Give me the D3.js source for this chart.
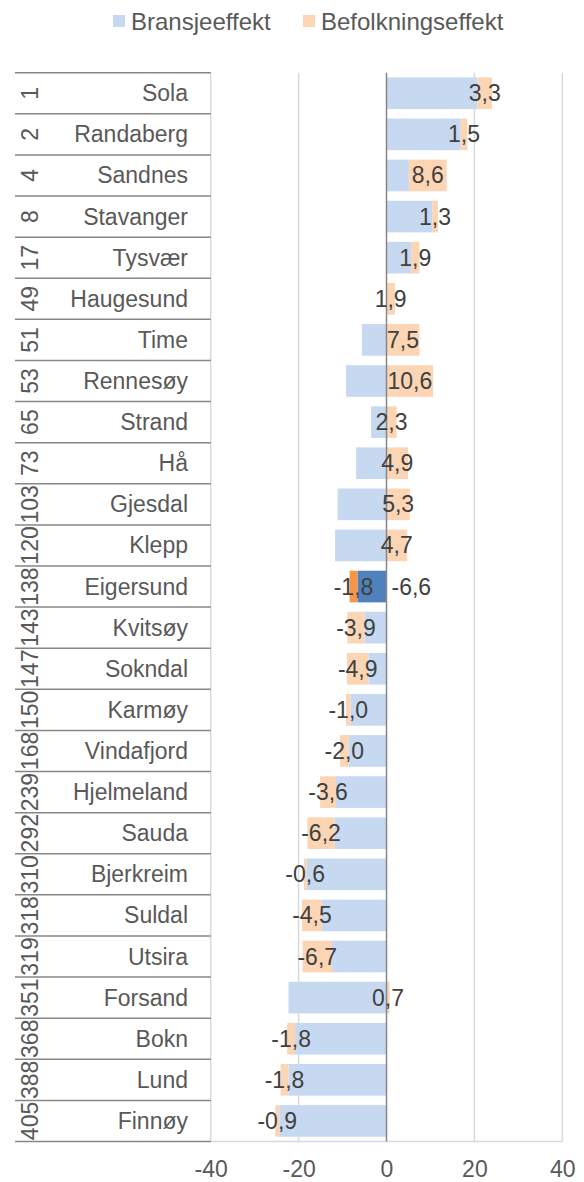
<!DOCTYPE html>
<meta charset="utf-8">
<style>
  body { margin: 0; background: #fff; }
  text { font-family: "Liberation Sans", Arial, sans-serif; font-size: 23px; }
  .grid line { stroke: #d9d9d9; stroke-width: 1.5; }
  .catline { stroke: #868686; stroke-width: 1.5; }
  .tick text { fill: #595959; }
  .lbl { fill: #404040; }
</style>
<body></body>
<script src="https://d3js.org/d3.v7.min.js"></script>
<script>
// ranks and municipalities, top to bottom
var ranks = [1, 2, 4, 8, 17, 49, 51, 53, 65, 73, 103, 120, 138, 143, 147, 150, 168, 239, 292, 310, 318, 319, 351, 368, 388, 405];
var names = ["Sola", "Randaberg", "Sandnes", "Stavanger", "Tysvær", "Haugesund", "Time", "Rennesøy", "Strand", "Hå",
  "Gjesdal", "Klepp", "Eigersund", "Kvitsøy", "Sokndal", "Karmøy", "Vindafjord", "Hjelmeland", "Sauda", "Bjerkreim",
  "Suldal", "Utsira", "Forsand", "Bokn", "Lund", "Finnøy"];
var bransje = [20.7, 16.9, 5.1, 10.4, 5.6, 0, -5.6, -9.2, -3.5, -6.9,
  -11.1, -11.7, -6.6, -5.0, -4.1, -8.2, -8.6, -11.5, -11.8, -18.2,
  -14.7, -12.4, -22.3, -20.8, -22.3, -24.4];
var befolkning = [3.3, 1.5, 8.6, 1.3, 1.9, 1.9, 7.5, 10.6, 2.3, 4.9,
  5.3, 4.7, -1.8, -3.9, -4.9, -1.0, -2.0, -3.6, -6.2, -0.6,
  -4.5, -6.7, 0.7, -1.8, -1.8, -0.9];
var seriesNames = ["Bransjeeffekt", "Befolkningseffekt"];
var xTicks = [-40, -20, 0, 20, 40];
var highlight = "Eigersund";

var light = ["#c6d9f1", "#fcd5b5"];
var dark = ["#4f81bd", "#f79646"];

var W = 584, H = 1182;
var svg = d3.select("body").append("svg").attr("width", W).attr("height", H);

var x = d3.scaleLinear().domain([-40, 40]).range([210.7, 562.3]);
var y = d3.scaleBand().domain(names).range([72.7, 1141.5]).paddingInner(0.23).paddingOuter(0.115);
var step = y.step();
var top0 = 72.7;

var rows = names.map((n, i) => ({ name: n, rank: ranks[i], b: bransje[i], f: befolkning[i] }));
var stack = d3.stack().keys(["b", "f"]).offset(d3.stackOffsetDiverging)(rows);

// vertical gridlines
svg.append("g").attr("class", "grid")
  .selectAll("line").data(xTicks.filter(d => d !== 0)).join("line")
  .attr("x1", d => x(d)).attr("x2", d => x(d))
  .attr("y1", top0).attr("y2", top0 + step * names.length);

// bottom line of plot
svg.append("line")
  .attr("x1", x(-40)).attr("x2", x(40))
  .attr("y1", top0 + step * names.length).attr("y2", top0 + step * names.length)
  .attr("stroke", "#d9d9d9").attr("stroke-width", 1.5);

// bars
stack.forEach((s, si) => {
  svg.append("g").selectAll("rect").data(s).join("rect")
    .attr("x", d => x(Math.min(d[0], d[1])))
    .attr("width", d => Math.abs(x(d[1]) - x(d[0])))
    .attr("y", d => y(d.data.name))
    .attr("height", y.bandwidth())
    .attr("fill", d => d.data.name === highlight ? dark[si] : light[si]);
});

// zero axis line
svg.append("line")
  .attr("x1", x(0)).attr("x2", x(0))
  .attr("y1", top0).attr("y2", top0 + step * names.length)
  .attr("stroke", "#868686").attr("stroke-width", 1.5);

// category separators on the left
svg.append("g").selectAll("line").data(d3.range(names.length + 1)).join("line")
  .attr("class", "catline")
  .attr("x1", 15).attr("x2", x(-40))
  .attr("y1", d => top0 + d * step).attr("y2", d => top0 + d * step);

var fmt = v => d3.format(".1f")(v).replace(".", ",").replace("−", "-");

// data labels for Befolkningseffekt, centred on its segment
svg.append("g").selectAll("text").data(stack[1]).join("text")
  .attr("class", "lbl")
  .attr("x", d => x((d[0] + d[1]) / 2))
  .attr("y", d => y(d.data.name) + y.bandwidth() / 2)
  .attr("text-anchor", "middle")
  .attr("dominant-baseline", "central")
  .text(d => fmt(d.data.f));

// label for highlighted Bransjeeffekt
svg.append("g").selectAll("text").data(rows.filter(r => r.name === highlight)).join("text")
  .attr("class", "lbl")
  .attr("x", x(0) + 5)
  .attr("y", d => y(d.name) + y.bandwidth() / 2)
  .attr("dominant-baseline", "central")
  .text(d => fmt(d.b));

// category names
svg.append("g").selectAll("text").data(rows).join("text")
  .attr("x", 188)
  .attr("y", d => y(d.name) + y.bandwidth() / 2)
  .attr("text-anchor", "end")
  .attr("dominant-baseline", "central")
  .attr("fill", "#595959")
  .text(d => d.name);

// ranks, rotated
svg.append("g").selectAll("text").data(rows).join("text")
  .attr("transform", d => `translate(30,${y(d.name) + y.bandwidth() / 2}) rotate(-90)`)
  .attr("text-anchor", "middle")
  .attr("dominant-baseline", "central")
  .attr("fill", "#595959")
  .text(d => d.rank);

// x axis
var xAxis = svg.append("g")
  .attr("transform", `translate(0,${top0 + step * names.length})`)
  .call(d3.axisBottom(x).tickValues(xTicks).tickSize(0).tickPadding(19).tickFormat(d => String(d)));
xAxis.select(".domain").remove();
xAxis.selectAll("text").style("font-size", "23px").style("font-family", "Liberation Sans, Arial, sans-serif");

// legend
var legend = svg.append("g");
var lx = [113, 303];
seriesNames.forEach((n, i) => {
  legend.append("rect").attr("x", lx[i]).attr("y", 15).attr("width", 12).attr("height", 12).attr("fill", light[i]);
  legend.append("text").attr("x", lx[i] + 18).attr("y", 21)
    .attr("dominant-baseline", "central").attr("fill", "#595959")
    .style("font-size", "24px").text(n);
});
</script>
